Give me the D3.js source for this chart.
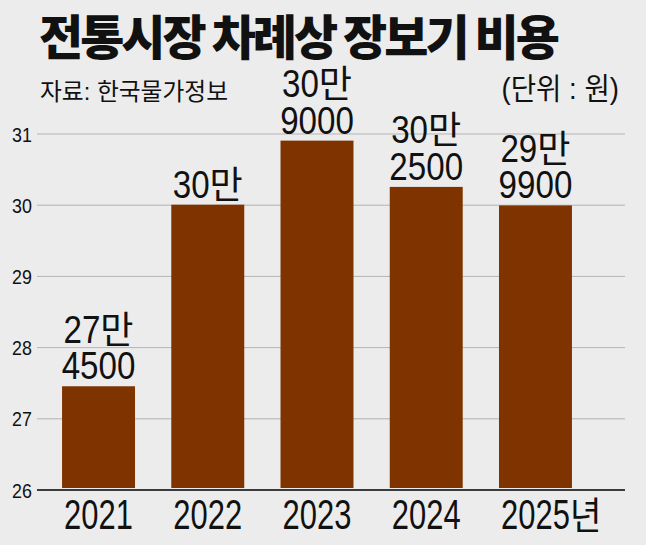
<!DOCTYPE html>
<html>
<head>
<meta charset="utf-8">
<script src="https://cdn.jsdelivr.net/npm/d3@7"></script>
<style>
  html, body { margin: 0; padding: 0; background: #ececec; }
  svg { display: block; }
</style>
</head>
<body>
<svg id="chart" width="646" height="545"></svg>
<script>
const years = ["2021", "2022", "2023", "2024", "2025"];
const yearSuffix = ["", "", "", "", "년"];
const values = [27.45, 30.0, 30.9, 30.25, 29.99];
const labelTop = ["27만", "30만", "30만", "30만", "29만"];
const labelBottom = ["4500", "", "9000", "2500", "9900"];
const yTicks = [26, 27, 28, 29, 30, 31];
const titleText = "전통시장 차례상 장보기 비용";
const sourceText = "자료: 한국물가정보";
const unitText = "(단위 : 원)";

const LATIN = "'Liberation Sans', Arial, sans-serif";
const KR = "'Noto Sans CJK KR', sans-serif";
const MIX = "'Liberation Sans', 'Noto Sans CJK KR', sans-serif";
const INK = "#111";

const svg = d3.select("#chart");
svg.append("rect").attr("width", 646).attr("height", 545).attr("fill", "#ececec");

const x = d3.scaleBand().domain(years).range([26, 608]).paddingInner(0.332).paddingOuter(0.33);
const y = d3.scaleLinear().domain([26, 31]).range([489.5, 133.5]);

// composite label: digits (condensed Latin) + Hangul suffix
function compLabel(parent, baseY, str, o) {
  const g = parent.append("g").attr("fill", INK).attr("text-anchor", "start");
  const m = str.match(/^([0-9]*)(.*)$/);
  let w = 0, digitW = 0;
  if (m[1]) {
    const t = g.append("text").attr("font-family", LATIN).attr("font-size", o.size)
      .attr("text-anchor", "start")
      .attr("transform", `scale(${o.sx},1)`).attr("x", 0).attr("y", baseY).text(m[1]);
    digitW = t.node().getComputedTextLength() * o.sx;
    w = digitW;
  }
  if (m[2]) {
    const t2 = g.append("text").attr("font-family", KR).attr("font-size", o.krSize)
      .attr("text-anchor", "start")
      .attr("transform", `translate(${w + (o.gap || 0)},0) scale(${o.krSx},1)`).attr("x", 0).attr("y", baseY).text(m[2]);
    w += (o.gap || 0) + t2.node().getComputedTextLength() * o.krSx;
  }
  const cw = o.centerOnDigits ? digitW : w;
  g.attr("transform", `translate(${o.cx - cw / 2},0)`);
  return g;
}

// Title
svg.append("text").attr("x", 39).attr("y", 55)
  .attr("font-family", KR).attr("font-weight", 900).attr("font-size", 48)
  .attr("letter-spacing", -3).attr("fill", INK).text(titleText);
svg.append("text").attr("x", 0).attr("y", 100)
  .attr("font-family", MIX).attr("font-size", 24).attr("fill", INK)
  .attr("transform", "translate(40,0) scale(0.99,1)")
  .text(sourceText);
svg.append("text").attr("x", 0).attr("y", 99).attr("text-anchor", "end")
  .attr("font-family", MIX).attr("font-size", 30).attr("fill", INK)
  .attr("transform", "translate(619,0) scale(0.92,1)")
  .text(unitText);

// Y axis + grid
const gridLeft = 37, gridRight = 625;
const yAxis = svg.append("g").attr("transform", `translate(${gridLeft},0)`)
  .call(d3.axisLeft(y).tickValues(yTicks).tickSize(-(gridRight - gridLeft)).tickFormat(d3.format("d")));
yAxis.select(".domain").remove();
yAxis.selectAll(".tick line").attr("stroke", d => d === 26 ? "#000" : "#b3b3b3")
  .attr("stroke-width", d => d === 26 ? 1.5 : 1);
yAxis.selectAll(".tick text")
  .attr("x", 0).attr("dy", "0.36em").attr("text-anchor", "start")
  .attr("font-family", LATIN).attr("font-size", 21).attr("fill", INK)
  .attr("transform", `translate(${12 - gridLeft},0) scale(0.85,1)`);

// Bars
svg.append("g").selectAll("rect").data(values).join("rect")
  .attr("x", (d, i) => x(years[i]))
  .attr("width", x.bandwidth())
  .attr("y", d => y(d))
  .attr("height", d => y(26) - 1.5 - y(d))
  .attr("fill", "#7f3400");

// Bar value labels
const lab = svg.append("g");
values.forEach((v, i) => {
  const cx = x(years[i]) + x.bandwidth() / 2;
  const base = y(v) - 7;
  const lines = labelBottom[i] ? [labelTop[i], labelBottom[i]] : [labelTop[i]];
  lines.forEach((t, j) => {
    compLabel(lab, base - (lines.length - 1 - j) * 36.5, t,
      { cx, size: 39, sx: 0.85, krSize: 38, krSx: 0.95, gap: 0 });
  });
});

// X axis labels
const xAxis = svg.append("g").attr("transform", `translate(0,${y(26)})`)
  .call(d3.axisBottom(x).tickSize(0));
xAxis.select(".domain").remove();
xAxis.selectAll(".tick text").remove();
xAxis.selectAll(".tick").each(function(d) {
  const suf = yearSuffix[years.indexOf(d)];
  compLabel(d3.select(this), 39.5, d + suf,
    { cx: 0, size: 43, sx: 0.72, krSize: 38, krSx: 0.9, gap: 0, centerOnDigits: true });
});
</script>
</body>
</html>
